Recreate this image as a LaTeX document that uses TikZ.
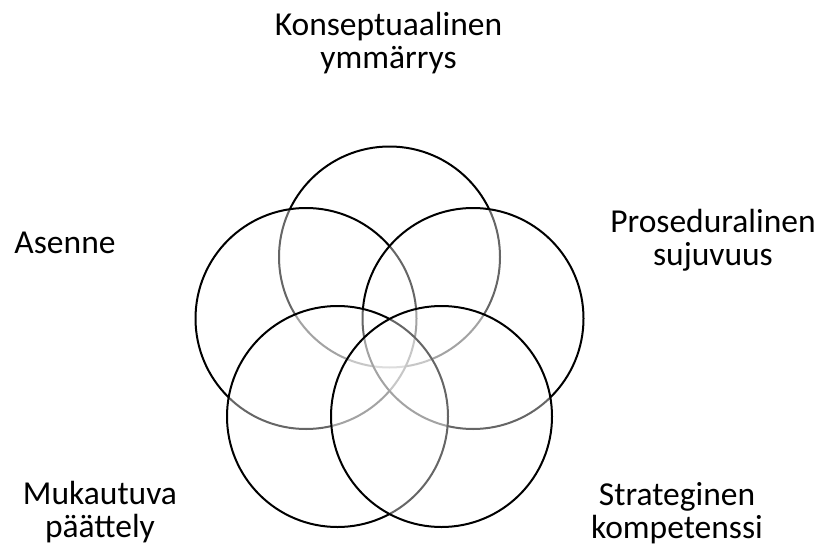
\documentclass[tikz,border=0pt]{standalone}
\usepackage{fontspec}
\setmainfont{Carlito}
\pgfdeclareradialshading{glow}{\pgfpoint{0bp}{0bp}}{color(0bp)=(white); color(30bp)=(white); color(44bp)=(black!6); color(48bp)=(black!18); color(50bp)=(black!45)}
\tikzset{
  petal/.style={circle, draw=black, line width=2pt, minimum size=221pt, inner sep=0pt, shading=glow, fill opacity=0.4, draw opacity=1},
  lbl/.style={anchor=base, align=center, font=\fontsize{33.5}{32.5}\selectfont, text=black, inner sep=0pt}
}
\begin{document}
\begin{tikzpicture}[x=1pt, y=-1pt]
\useasboundingbox (0,0) rectangle (821,551);
\fill[white] (0,0) rectangle (821,551);
\node[petal] (ctop) at (389.5,257) {};
\node[petal] (cleft) at (306,318.5) {};
\node[petal] (cright) at (473,318.5) {};
\node[petal] (cbl) at (337.5,416.5) {};
\node[petal] (cbr) at (441.5,416.5) {};
\node[lbl] (ltop) at (388.5,68) {Konseptuaalinen\\ymmärrys};
\node[lbl] (lleft) at (65,253.3) {Asenne};
\node[lbl] (lright) at (713,265) {Proseduralinen\\sujuvuus};
\node[lbl] (lbl) at (100,537) {Mukautuva\\päättely};
\node[lbl] (lbr) at (677,538) {Strateginen\\kompetenssi};
\end{tikzpicture}
\end{document}
